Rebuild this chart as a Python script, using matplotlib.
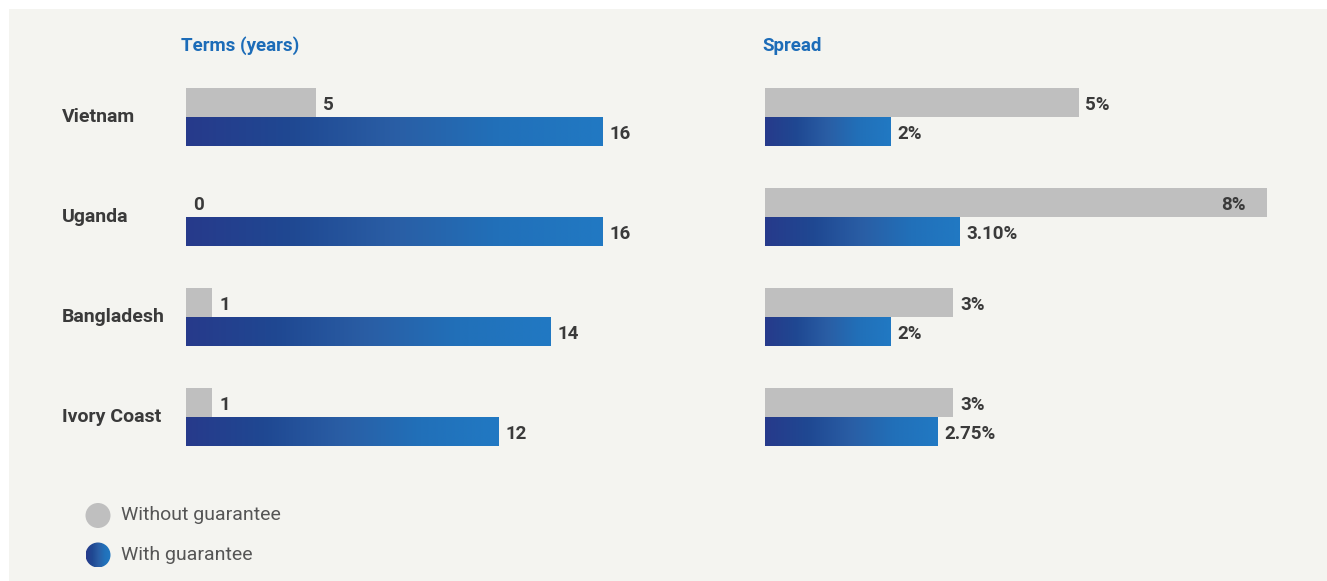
import numpy as np
import matplotlib.pyplot as plt
from matplotlib.colors import LinearSegmentedColormap
from matplotlib.patches import Rectangle, Circle
from matplotlib.transforms import blended_transform_factory

# -------------------------
# Data
# -------------------------
countries = ["Vietnam", "Uganda", "Bangladesh", "Ivory Coast"]
terms_without = [5, 0, 1, 1]
terms_with = [16, 16, 14, 12]
spread_without = [5, 8, 3, 3]
spread_with = [2, 3.10, 2, 2.75]
spread_without_labels = ["5%", "8%", "3%", "3%"]
spread_with_labels = ["2%", "3.10%", "2%", "2.75%"]
legend_labels = ["Without guarantee", "With guarantee"]

# -------------------------
# Style
# -------------------------
plt.rcParams["font.family"] = ["Roboto", "DejaVu Sans"]
W, H = 1327, 581
FS = 13.5
BG = "#f4f4f0"
GRAY = "#bfbfbf"
TXT = "#3a3a3a"
TITLE = "#1c6cb8"
blue_cmap = LinearSegmentedColormap.from_list(
    "blues", ["#273a8b", "#1f4892", "#2a5ea5", "#2170b9", "#2179c3"]
)
grad = np.linspace(0, 1, 256).reshape(1, -1)

fig = plt.figure(figsize=(W / 100, H / 100), dpi=100)
fig.patch.set_facecolor("white")

# background panel in pixel coordinates
bg = fig.add_axes([0, 0, 1, 1], zorder=-1)
bg.set_xlim(0, W)
bg.set_ylim(H, 0)
bg.axis("off")
bg.add_patch(Rectangle((9, 9), W - 9, H - 9, color=BG, lw=0, zorder=0))

h = 0.29
y = np.arange(len(countries))
dy = 0.02  # labels sit a touch below bar centre

ax_bottom = 1 - 467.3 / H
ax_height = 400 / H


def make_panel(left_px, px_per_unit, xmax, without, with_, lab_without, lab_with, inside_max=False):
    ax = fig.add_axes([left_px / W, ax_bottom, xmax * px_per_unit / W, ax_height])
    ax.set_xlim(0, xmax)
    ax.set_ylim(3.5, -0.5)
    ax.axis("off")
    ax.patch.set_alpha(0)

    ax.barh(y - h / 2, without, height=h, color=GRAY, lw=0)
    bars = ax.barh(y + h / 2, with_, height=h, color="none", lw=0)
    for b in bars:
        x0, y0, bw, bh = b.get_x(), b.get_y(), b.get_width(), b.get_height()
        im = ax.imshow(grad, cmap=blue_cmap, aspect="auto",
                       extent=(x0, x0 + bw, y0 + bh, y0), interpolation="bicubic")
        im.set_clip_path(b)
    ax.set_xlim(0, xmax)
    ax.set_ylim(3.5, -0.5)

    off = 7 / px_per_unit
    vmax = max(without)
    for i in range(len(countries)):
        if inside_max and without[i] == vmax:
            ax.text(without[i] - 21 / px_per_unit, y[i] - h / 2 + dy, lab_without[i],
                    ha="right", va="center", fontsize=FS, fontweight="bold", color=TXT)
        else:
            ax.text(without[i] + off, y[i] - h / 2 + dy, lab_without[i],
                    ha="left", va="center", fontsize=FS, fontweight="bold", color=TXT)
        ax.text(with_[i] + off, y[i] + h / 2 + dy, lab_with[i],
                ha="left", va="center", fontsize=FS, fontweight="bold", color=TXT)
    return ax


ax1 = make_panel(186, 26.06, 19, terms_without, terms_with,
                 [str(v) for v in terms_without], [str(v) for v in terms_with])
ax2 = make_panel(765, 62.7, 8.7, spread_without, spread_with,
                 spread_without_labels, spread_with_labels, inside_max=True)

# country labels
trans = blended_transform_factory(fig.transFigure, ax1.transData)
for i, c in enumerate(countries):
    ax1.text(62 / W, y[i], c, transform=trans, ha="left", va="center",
             fontsize=14, fontweight="bold", color=TXT)

# panel titles
fig.text(181 / W, 1 - 46 / H, "Terms (years)", ha="left", va="center",
         fontsize=FS, fontweight="bold", color=TITLE)
fig.text(762 / W, 1 - 46 / H, "Spread", ha="left", va="center",
         fontsize=FS, fontweight="bold", color=TITLE)

# legend
bg.add_patch(Circle((98, 515.5), 12.5, color=GRAY, lw=0, zorder=2))
circ = Circle((98, 555), 12.5, facecolor="none", edgecolor="none", lw=0, zorder=2)
bg.add_patch(circ)
im = bg.imshow(grad, cmap=blue_cmap, aspect="auto", zorder=3,
               extent=(85.5, 110.5, 567.5, 542.5), interpolation="bicubic")
im.set_clip_path(circ)
bg.set_xlim(0, W)
bg.set_ylim(H, 0)
bg.text(121, 515.5, legend_labels[0], ha="left", va="center", fontsize=14, color="#555555")
bg.text(121, 555, legend_labels[1], ha="left", va="center", fontsize=14, color="#555555")

fig.savefig("out.png", dpi=100, facecolor=fig.get_facecolor())
